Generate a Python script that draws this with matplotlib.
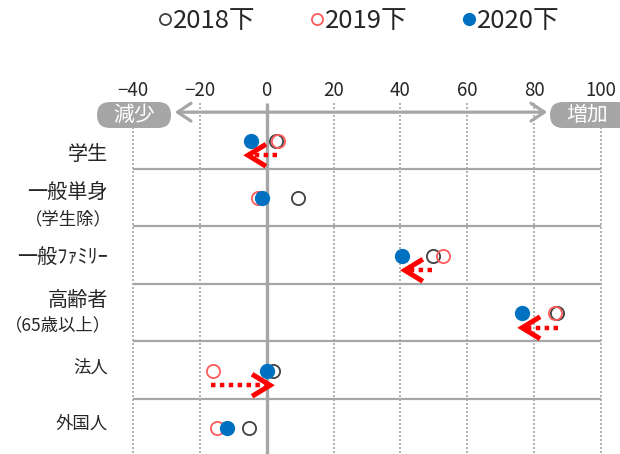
import matplotlib
matplotlib.use("Agg")
import matplotlib.pyplot as plt
from matplotlib.lines import Line2D
from matplotlib.patches import FancyBboxPatch, FancyArrowPatch

plt.rcParams['font.family'] = ['Noto Sans CJK JP', 'DejaVu Sans']

# ---- data -------------------------------------------------------------
categories = ["学生", "一般単身", "一般ﾌｧﾐﾘｰ", "高齢者", "法人", "外国人"]
sublabels = ["", "（学生除）", "", "（65歳以上）", "", ""]
series_names = ["2018下", "2019下", "2020下"]
v2018 = [2.7, 9.4, 49.7, 86.8, 1.9, -5.3]
v2019 = [3.3, -2.6, 52.7, 86.3, -16.1, -14.9]
v2020 = [-4.7, -1.4, 40.5, 76.4, 0.1, -11.9]
arrow_rows = [0, 2, 3, 4]
arrow_from = [3.1, 49.4, 87.1, -16.7]
arrow_to = [-5.6, 41.3, 76.4, 1.0]
xticks = [-40, -20, 0, 20, 40, 60, 80, 100]
xticklabels = ["−40", "−20", "0", "20", "40", "60", "80", "100"]
left_word, right_word = "減少", "増加"

# ---- style ------------------------------------------------------------
W, H = 620, 454
GRAY = "#A6A6A6"
C2018, C2019, C2020 = "#404040", "#FF5B5B", "#0070C0"
TXT = "#262626"
row_top_px, row_h_px = 111, 57.5
x_left_px, x_right_px = 133, 601

fig = plt.figure(figsize=(W / 100, H / 100), dpi=100)
bottom_rows = (H - row_top_px) / row_h_px
ax = fig.add_axes([x_left_px / W, 0, (x_right_px - x_left_px) / W,
                   (H - row_top_px) / H])
ax.set_xlim(xticks[0], xticks[-1])
ax.set_ylim(bottom_rows, 0)
for s in ax.spines.values():
    s.set_visible(False)

ax.xaxis.tick_top()
ax.set_xticks(xticks)
ax.set_xticklabels(xticklabels, fontsize=13.5, color=TXT)
ax.tick_params(axis="x", length=0, pad=7)
ax.set_yticks([])

top_ext = -8 / row_h_px
# vertical grid
for t in xticks:
    if t == 0:
        ax.vlines(t, top_ext, bottom_rows, color=GRAY, lw=2.4, zorder=2,
                  clip_on=False)
    else:
        ax.vlines(t, top_ext, bottom_rows, color=GRAY, lw=1.2,
                  linestyles=(0, (1.2, 1.2)), zorder=1, clip_on=False)
# row separators
for k in range(1, len(categories)):
    ax.hlines(k, xticks[0], xticks[-1], color=GRAY, lw=1.6, zorder=1)

# top axis with arrowheads at both ends
px_per_unit = (x_right_px - x_left_px) / (xticks[-1] - xticks[0])
to_val = lambda px: xticks[0] + (px - x_left_px) / px_per_unit
arr = FancyArrowPatch((to_val(172), 0.02), (to_val(550), 0.02),
                      arrowstyle="<->,head_length=6,head_width=4",
                      color=GRAY, lw=2.3, mutation_scale=1.6,
                      clip_on=False, zorder=3)
ax.add_patch(arr)

# markers
ys = [i + 0.52 for i in range(len(categories))]
ax.plot(v2018, ys, "o", ms=9.5, mfc="white", mec=C2018, mew=1.3,
        zorder=4, clip_on=False)
ax.plot(v2019, ys, "o", ms=9.5, mfc="none", mec=C2019, mew=1.3,
        zorder=5, clip_on=False)
ax.plot(v2020, ys, "o", ms=11, mfc=C2020, mec=C2020, mew=0,
        zorder=6, clip_on=False)

# change arrows
head_dx = 18 / px_per_unit
head_dy = 11 / row_h_px
for r, a, b in zip(arrow_rows, arrow_from, arrow_to):
    y = r + 0.77
    sgn = 1 if b > a else -1
    ax.plot([a, b - sgn * 2 / px_per_unit], [y, y], color="#FF0000", lw=3.2,
            linestyle=(0, (1, 1)), dash_capstyle="butt", zorder=7)
    ax.plot([b - sgn * head_dx, b, b - sgn * head_dx],
            [y - head_dy, y, y + head_dy], color="#FF0000", lw=3.6,
            solid_joinstyle="miter", solid_capstyle="butt", zorder=7)

# category labels
label_x = to_val(108)
main_pos = [0.76, 0.42, 0.54, 0.29, 0.47, 0.43]
main_size = [14.5, 14.5, 14.5, 14.5, 12.5, 12.5]
sub_pos = [0, 0.88, 0, 0.72, 0, 0]
for i, (c, s) in enumerate(zip(categories, sublabels)):
    ax.text(label_x, i + main_pos[i], c, ha="right", va="center",
            fontsize=main_size[i], color=TXT, clip_on=False)
    if s:
        ax.text(label_x + 1.0, i + sub_pos[i], s, ha="right", va="center",
                fontsize=12.5, color=TXT, clip_on=False)

# overlay in pixel space for the pills
ov = fig.add_axes([0, 0, 1, 1], zorder=10)
ov.set_xlim(0, W)
ov.set_ylim(H, 0)
ov.axis("off")
ov.patch.set_alpha(0)
for x0, x1, word, cx in [(97, 171, left_word, 134), (550, 640, right_word, 587)]:
    ov.add_patch(FancyBboxPatch((x0, 102), x1 - x0, 26,
                                boxstyle="round,pad=0,rounding_size=13",
                                fc=GRAY, ec="none", clip_on=False))
    ov.text(cx, 115, word, ha="center", va="center", color="white",
            fontsize=15)

# legend
handles = [
    Line2D([], [], ls="none", marker="o", ms=8, mfc="white", mec=C2018, mew=1.3),
    Line2D([], [], ls="none", marker="o", ms=8, mfc="white", mec=C2019, mew=1.3),
    Line2D([], [], ls="none", marker="o", ms=9.5, mfc=C2020, mec=C2020, mew=0),
]
fig.legend(handles, series_names, loc="center", bbox_to_anchor=(359 / W, 1 - 21 / H),
           ncol=3, frameon=False, fontsize=18.5, handlelength=0.55,
           handletextpad=0.05, columnspacing=2.1, labelcolor=TXT)

fig.savefig("out.png", dpi=100)
